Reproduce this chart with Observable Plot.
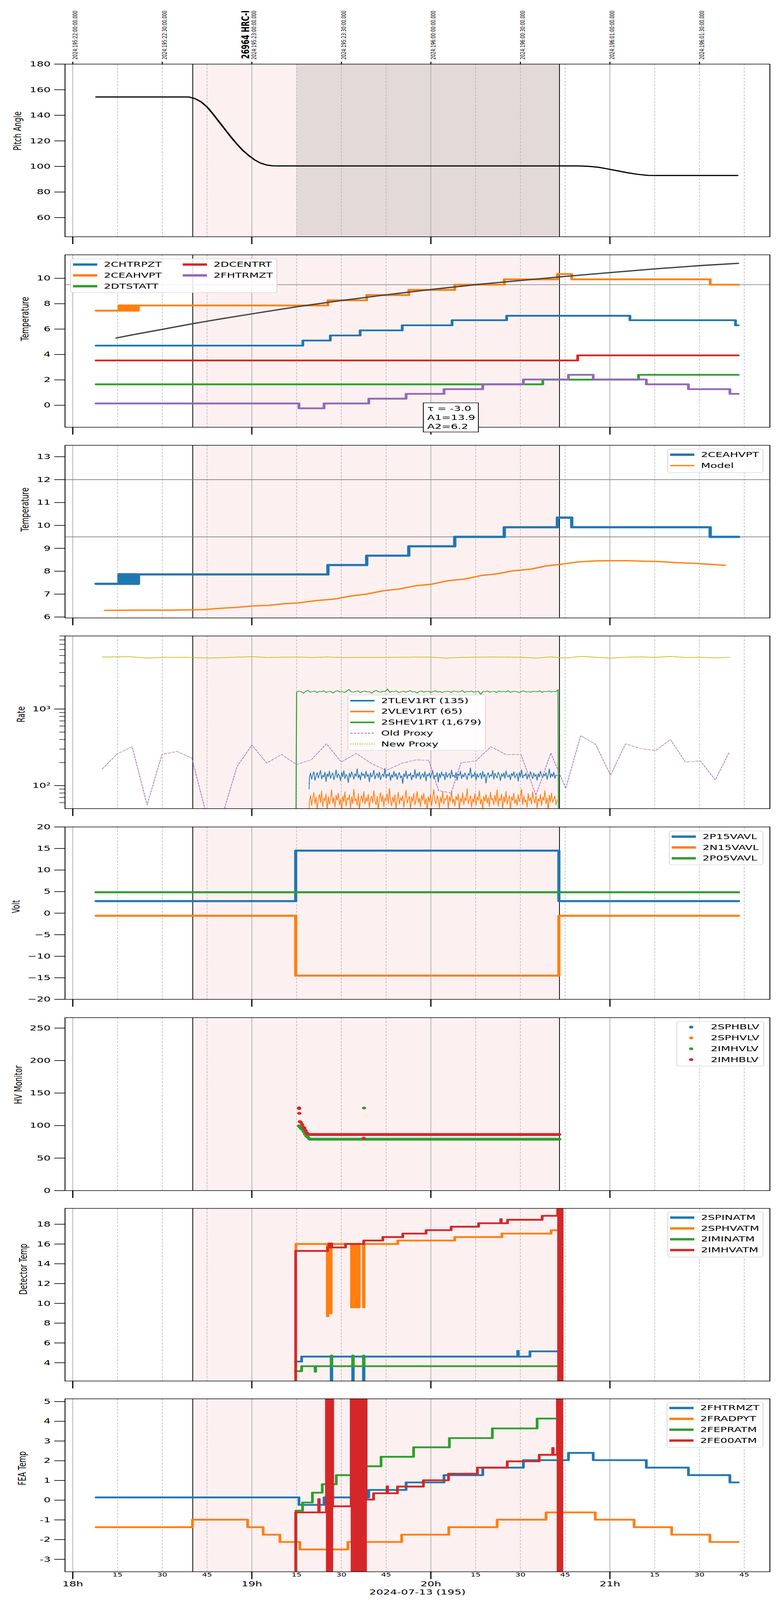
<!DOCTYPE html>
<html><head><meta charset="utf-8">
<script src="https://cdn.jsdelivr.net/npm/d3@7"></script>
<script src="https://cdn.jsdelivr.net/npm/@observablehq/plot@0.6"></script>
<style>
html,body{margin:0;background:#fff;overflow:hidden;height:4096px}
#page{position:absolute;left:0;top:0;width:2000px;height:6200px;font-family:"DejaVu Sans",sans-serif;overflow:hidden;background:#fff;transform-origin:0 0}
.legend{position:absolute;background:rgba(255,255,255,0.85);border:2px solid #d6d6d6;border-radius:7px;box-sizing:border-box}
.lg-h{position:absolute}
.lg-t{position:absolute;font-size:28px;line-height:42px;height:42px;white-space:nowrap;color:#000}
.tbox{position:absolute;background:#fff;border:2px solid #000;box-sizing:border-box;font-size:28px;line-height:35px;padding:3px 0 0 9px;white-space:nowrap}
</style></head>
<body><div id="page"></div>
<script>
// ---------- axis / time definitions (minutes after 18:00 local, 2024-07-13) ----------
const X_DOMAIN = [-2.6, 233.6];
const hourTicks = [0, 60, 120, 180];
const hourLabels = ["18h", "19h", "20h", "21h"];
const quarterTicks = [15, 30, 45, 75, 90, 105, 135, 150, 165, 195, 210, 225];
const quarterLabels = ["15", "30", "45", "15", "30", "45", "15", "30", "45", "15", "30", "45"];
const topTicks = [0, 30, 60, 90, 120, 150, 180, 210];
const topLabels = ["2024:195:22:00:00.000", "2024:195:22:30:00.000", "2024:195:23:00:00.000", "2024:195:23:30:00.000",
  "2024:196:00:00:00.000", "2024:196:00:30:00.000", "2024:196:01:00:00.000", "2024:196:01:30:00.000"];
const titleText = [{t: 56.6, label: "26964 HRC-I"}];
const xTitle = "2024-07-13 (195)";
const obsSpan = [[40.2, 163.1]];
const obsEdges = [40.2, 163.1];
const hvSpan = [[75.0, 163.1]];

// ---------- Panel 1: pitch ----------
const pitch = [[7.8,154.3],[39.0,154.3],[41,153],[43,150.5],[45,146.5],[47,141],[49,135],[51,129],[53,123],[55,117.5],
  [57,112.5],[59,108.5],[61,105],[63,102.5],[65,101.1],[67,100.5],[69,100.4],[169.3,100.4],[172.7,100.1],[176,99.4],
  [179.4,98.0],[182.7,96.5],[186.1,95.0],[189.4,93.8],[192.8,93.0],[196.1,92.9],[222.8,92.9]];
const pitchTicks = [60, 80, 100, 120, 140, 160, 180];

// ---------- Panel 2 / 3: temperatures ----------
const chtrpzt = [[7.8,4.7],[77.1,5.1],[86.3,5.5],[96.3,5.9],[110.4,6.3],[127.1,6.7],[145.4,7.05],[186.7,6.7],[222.1,6.3],[223.0,6.3]];
const ceahvpt = [[7.8,7.45],[15.5,7.87],[16.0,7.45],[16.4,7.87],[16.9,7.45],[17.4,7.87],[18.0,7.45],[18.5,7.87],[19.1,7.45],
  [19.6,7.87],[20.2,7.45],[20.8,7.87],[21.4,7.45],[22.0,7.86],[85.5,8.27],[98.5,8.68],[112.6,9.09],[128.0,9.5],[144.6,9.92],
  [162.4,10.34],[167.2,9.92],[213.6,9.5],[223.1,9.5]];
const dtstatt = [[7.8,1.65],[157.5,2.02],[189.6,2.4],[223.0,2.4]];
const dcentrt = [[7.8,3.53],[169.2,3.93],[223.0,3.93]];
const fhtrmzt = [[7.8,0.14],[75.8,-0.24],[84.2,0.14],[99.2,0.52],[111.7,0.9],[124.4,1.27],[137.4,1.65],[151.0,2.03],
  [166.1,2.4],[174.4,2.03],[192.2,1.65],[206.3,1.27],[220.2,0.9],[223.0,0.9]];
const hvptFit = [[14.6,5.3],[20,5.55],[30,5.98],[40,6.42],[50,6.82],[60,7.2],[75,7.76],[90,8.25],[105,8.7],[120,9.12],
  [135,9.5],[150,9.83],[165,10.15],[180,10.45],[195,10.74],[210,11.0],[223,11.18]];
const p2Limit = [9.5];
const p2Ticks = [0, 2, 4, 6, 8, 10];
const fitText = ["τ = -3.0", "A1=13.9", "A2=6.2"];
const hvptModel = [[10.7,6.29],[20.7,6.3],[32.4,6.3],[43.3,6.32],[49.1,6.38],[55,6.42],[60,6.48],[65.8,6.51],[70.8,6.58],
  [75.8,6.62],[81.7,6.72],[87.5,6.78],[93.4,6.92],[98.4,7.0],[104.2,7.15],[109.2,7.22],[115.1,7.37],[120.1,7.43],
  [125.9,7.59],[131,7.65],[136.8,7.81],[141.8,7.88],[147.7,8.02],[153.5,8.09],[158.5,8.23],[163.5,8.3],[169.4,8.41],
  [175.2,8.45],[180.2,8.46],[186.1,8.46],[191.1,8.44],[196.9,8.42],[202.8,8.37],[207.8,8.35],[213.6,8.3],[218.6,8.26]];
const p3Limits = [12, 9.5];
const p3Ticks = [6, 7, 8, 9, 10, 11, 12, 13];

// ---------- Panel 4: rates (log) ----------
const shevT = [75.0, 162.6];
const shevRate = [1650,1720,1690,1610,1700,1760,1660,1690,1720,1640,1700,1680,1730,1650,1690,1710,1620,1700,1740,1670,
  1690,1650,1710,1800,1680,1660,1700,1730,1640,1690,1720,1670,1690,1610,1700,1750,1680,1660,1710,1690,1830,1650,1700,1690,
  1720,1640,1680,1710,1660,1700,1740,1670,1690,1620,1700,1720,1660,1690,1710,1650,1690,1730,1670,1700,1640,1680,1710,1690,
  1650,1720,1700,1670,1690,1740,1650,1700,1680,1720,1660,1690,1710,1560,1700,1680,1730,1660,1690,1700,1650,1720,1680,1700,
  1670,1740,1650,1690,1710,1680,1640,1700,1720,1670,1690,1660,1710,1700,1680,1730,1650,1700,1690,1720,1670,1700,1680,1790];
const shevEdges = [[74.8, 40], [162.75, 40]];
const tlevT = [79.3, 162.3];
const tlevRate = [128,146,121,139,152,117,134,148,125,141,158,122,137,129,150,113,143,131,155,124,
  138,147,119,133,161,127,142,135,116,149,130,157,123,140,134,109,146,128,152,137,
  121,144,132,166,126,139,118,150,135,143,124,155,131,140,112,147,129,138,159,122,
  136,145,127,151,119,134,142,130,168,125,141,133,148,116,139,127,154,131,144,120,
  137,149,126,135,106,143,130,156,123,140,134,147,118,138,129,162,124,145,132,151,
  121,137,143,128,153,115,141,133,146,125,139,157,122,136,130,148,111,144,127,152,
  134,141,119,150,128,137,145,124,160,131,138,126,149,117,142,135,155,123,140,129,
  147,133,120,144,136,171,125,139,131,151,118,143,128,137,146,122,154,130,141,108,
  136,148,127,139,132,158,121,145,134,126,150,138,116,142,131,147,124,156,135,129,
  140,119,145,133,152,126,137,143,114,149,130,161,125,138,134,146,121,141,128,153,
  136,123,147,132,140,117,144,129,155,137,127,142,133,148,120,139,165,126,143,131,
  150,124,138,135];
const tlevStart = [79.2, 90];
const vlevT = [79.3, 162.3];
const vlevRate = [62,74,55,68,81,58,71,49,66,77,60,85,53,69,63,78,47,72,57,66,
  88,59,70,52,75,64,80,56,67,46,73,61,83,54,69,65,76,50,71,58,
  90,63,68,55,79,48,66,74,60,84,57,70,62,77,51,67,73,59,86,64,
  56,72,47,68,81,61,75,53,69,63,78,58,92,65,54,71,60,76,49,67,
  82,57,70,63,74,52,68,87,59,66,73,48,71,62,79,56,65,84,60,69,
  53,75,64,80,57,68,46,72,61,77,55,70,89,63,58,74,66,51,71,60,
  83,57,68,65,76,50,72,62,85,59,67,54,73,64,78,47,69,61,81,56,
  70,63,91,58,66,74,52,68,60,79,55,71,64,86,57,67,49,73,62,77,
  59,70,53,82,65,68,56,75,61,88,54,69,63,78,50,72,60,84,57,66,
  74,48,71,64,80,58,67,55,76,62,69,90,56,73,61,65,52,79,63,70,
  57,83,66,59,74,51,68,62,77,55,71,64,86,58,69,47,75,61,80,60,
  67,73,56,65];
const vlevStart = [79.2, 48];
const oldProxy = [[9.9,165],[14.9,260],[19.9,322],[24.9,56],[29.9,255],[34.9,279],[39.9,229],[44.9,40],[49.9,38],[55.0,176],
  [60.0,339],[65.0,197],[70.0,255],[75.0,188],[80.0,219],[85.0,351],[90.0,203],[95.0,264],[100.0,195],[105.1,158],[110.1,195],
  [115.1,217],[119.3,214],[122.6,86],[126.8,80],[130.1,199],[135.1,210],[140.1,322],[145.1,255],[150.2,254],[155.2,75],
  [160.2,265],[165.2,92],[170.2,451],[175.2,345],[180.2,137],[185.2,351],[190.2,305],[195.3,287],[200.3,398],[205.3,203],
  [210.3,210],[215.3,119],[220.0,274]];
const newProxy = [[9.9,4782],[19.0,4833],[24.9,4631],[30.7,4749],[39.9,4732],[44.9,4631],[49.9,4697],[60.0,4833],[65.0,4715],
  [75.0,4782],[80.0,4715],[85.0,4782],[90.0,4715],[105.1,4732],[115.1,4765],[120.1,4765],[125.1,4631],[130.1,4732],[140.1,4782],
  [150.2,4749],[155.2,4631],[160.2,4800],[165.2,4631],[170.2,4868],[175.2,4749],[180.2,4631],[185.2,4749],[190.2,4800],
  [195.3,4732],[200.3,4868],[205.3,4715],[210.3,4749],[215.3,4664],[220.0,4749]];
const rateTicks = [100, 1000];
const rateTickLabels = ["10²", "10³"];
const rateMinor = [60,70,80,90,200,300,400,500,600,700,800,900,2000,3000,4000,5000,6000,7000,8000,9000];

// ---------- Panel 5: volts ----------
const p15vavl = [[7.8,2.8],[74.7,14.5],[162.9,2.8],[223.1,2.8]];
const n15vavl = [[7.8,-0.6],[74.7,-14.5],[162.9,-0.6],[223.1,-0.6]];
const p05vavl = [[7.8,4.85],[223.1,4.85]];
const voltTicks = [-20, -15, -10, -5, 0, 5, 10, 15, 20];

// ---------- Panel 6: HV monitor ----------
const imhblv = [[75.8,127.2],[75.9,126.2],[75.9,118.8],[76.1,106],[76.4,105],[76.9,101.5],[77.3,97.5],[77.6,96],[78.0,92.5],
  [78.4,89],[78.9,87],[97.5,80.5]];
const imhblvFlat = [[79.3,86.3],[163.0,86.3]];
const imhvlv = [[75.8,99.5],[76.1,98],[76.5,95.5],[77.0,93.5],[77.4,90.5],[77.8,87],[78.3,84],[78.8,82],[79.2,80],[97.6,127]];
const imhvlvFlat = [[79.5,79.0],[163.0,79.0]];
const hvTicks = [0, 50, 100, 150, 200, 250];

// ---------- Panel 7: detector temps ----------
const spinatm = [[74.6,4.12],[76.7,4.62],[86.6,1.0],[86.8,4.62],[93.8,1.0],[94.0,4.62],[97.4,1.0],[97.6,4.62],[149.1,5.2],
  [149.3,4.62],[153.2,5.15],[162.6,5.15]];
const sphvatm = [[74.7,15.4],[74.8,16.0],[85.3,8.7],[85.5,16.0],[86.4,9.0],[86.6,16.0],[93.4,9.6],[93.7,16.0],[94.0,9.6],
  [94.3,16.0],[94.6,9.6],[94.9,16.0],[95.2,9.6],[95.5,16.0],[95.8,9.6],[96.0,16.0],[97.4,9.6],[97.6,16.0],[108.9,16.35],
  [128.0,16.7],[143.8,17.05],[160.3,17.4],[162.6,17.4]];
const imintatm = [[74.6,3.15],[76.7,3.65],[81.2,3.1],[81.4,3.65],[86.6,4.72],[86.8,3.65],[93.8,4.72],[94.0,3.65],[97.4,4.72],
  [97.6,3.65],[162.6,3.65]];
const imhvatm = [[74.6,-5],[74.7,15.3],[85.4,15.65],[85.8,16.05],[86.1,15.65],[86.5,16.05],[86.8,15.65],[91.4,16.0],[97.5,16.35],
  [103.9,16.7],[110.6,17.05],[118.4,17.4],[126.8,17.75],[136.0,18.1],[143.4,18.5],[143.6,18.1],[145.7,18.45],[157.3,18.85],
  [162.5,30],[162.8,-10],[163.1,30],[163.4,-10],[163.7,30],[164.0,-10],[164.2,-10]];
const detTicks = [4, 6, 8, 10, 12, 14, 16, 18];

// ---------- Panel 8: FEA temps ----------
const fradpyt = [[7.8,-1.37],[40.1,-0.99],[58.6,-1.37],[63.8,-1.75],[69.4,-2.12],[76.1,-2.5],[92.2,-2.12],[110.2,-1.75],
  [126.0,-1.37],[142.2,-0.99],[158.6,-0.62],[175.1,-0.99],[188.1,-1.37],[200.7,-1.75],[213.5,-2.12],[223.0,-2.12]];
const fepratm = [[74.7,-5],[74.8,-0.53],[77.0,-0.12],[80.3,0.38],[83.6,0.81],[86.5,-5],[86.7,0.81],[88.3,1.27],[93.7,-5],
  [93.9,1.27],[95.5,1.72],[97.4,-5],[97.6,1.72],[103.3,2.2],[114.2,2.68],[126.2,3.15],[140.6,3.64],[155.6,4.14],[162.6,-5],[162.7,-5]];
const fe00atm = [[74.6,-5],[74.7,-0.62],[82.4,0.05],[82.6,-0.62],[85.0,6],[85.3,-5],[85.6,6],[85.9,-5],[86.2,6],[86.5,-5],
  [86.8,6],[87.1,-0.31],[93.3,6],[93.6,-5],[93.9,6],[94.2,-5],[94.5,6],[94.8,-5],[95.1,6],[95.4,-5],[95.7,6],[96.0,-5],
  [96.3,6],[96.6,-5],[96.9,6],[97.2,-5],[97.5,6],[97.8,-5],[98.1,6],[98.3,0.03],[100.8,0.35],[105.3,0.7],[105.5,0.35],
  [108.8,0.69],[117.5,1.01],[125.9,1.34],[135.6,1.65],[145.6,1.97],[156.3,2.3],[160.8,2.65],[161.0,2.3],[162.4,6],[162.7,-5],
  [163.0,6],[163.3,-5],[163.6,6],[163.9,-5],[164.1,-5]];
const feaTicks = [-3, -2, -1, 0, 1, 2, 3, 4, 5];

// ---------- legends ----------
const p2Names = ["2CHTRPZT", "2CEAHVPT", "2DTSTATT", "2DCENTRT", "2FHTRMZT"];
const p3Names = ["2CEAHVPT", "Model"];
const p4Names = ["2TLEV1RT (135)", "2VLEV1RT (65)", "2SHEV1RT (1,679)", "Old Proxy", "New Proxy"];
const p5Names = ["2P15VAVL", "2N15VAVL", "2P05VAVL"];
const p6Names = ["2SPHBLV", "2SPHVLV", "2IMHVLV", "2IMHBLV"];
const p7Names = ["2SPINATM", "2SPHVATM", "2IMINATM", "2IMHVATM"];
const p8Names = ["2FHTRMZT", "2FRADPYT", "2FEPRATM", "2FE00ATM"];

// =====================================================================
const page = document.getElementById("page");
// the browser viewport can be shorter than the 6200px figure: fit the figure's height into it
const fitScale = Math.min(1, (window.innerHeight || 6200) / 6200);
page.style.transform = `scale(1, ${fitScale})`;
document.documentElement.style.height = document.body.style.height = Math.ceil(6200 * fitScale) + "px";

const FONT = '"DejaVu Sans", sans-serif';
const C = {blue: "#1f77b4", orange: "#ff7f0e", green: "#2ca02c", red: "#d62728", purple: "#9467bd", olive: "#bcbd22"};
const px = d => d[0], py = d => d[1];

function stepLine(data, stroke, w) {
  return Plot.line(data, {x: px, y: py, curve: "step-after", stroke, strokeWidth: w, strokeLinejoin: "round", clip: true});
}
function plainLine(data, stroke, w, extra = {}) {
  return Plot.line(data, {x: px, y: py, stroke, strokeWidth: w, strokeLinejoin: "round", clip: true, ...extra});
}
function sampled(range, values, head, tail) {
  const n = values.length, out = [];
  if (head) out.push(head);
  values.forEach((v, i) => out.push([range[0] + (range[1] - range[0]) * i / (n - 1), v]));
  if (tail) out.push(tail);
  return out;
}
function background(extra = []) {
  return [
    Plot.rect(obsSpan, {x1: px, x2: py, fill: "#fdf0f0"}),
    ...extra,
    Plot.ruleX(quarterTicks, {stroke: "#b2b2b2", strokeWidth: 1.5, strokeDasharray: "8,5"}),
    Plot.ruleX(hourTicks, {stroke: "#b2b2b2", strokeWidth: 2}),
    Plot.ruleX(obsEdges, {stroke: "#000", strokeWidth: 2})
  ];
}

function panel({top, bottom, mt = 30, mb = 40, y, yTicks, yFormat = d => String(d), yMinor, yLabel, yLabelX, marks, bgExtra = [], extra = [], bottomAxis = false}) {
  const height = bottom - top + mt + mb;
  const axes = [
    Plot.frame({stroke: "#000", strokeWidth: 2.2}),
    Plot.axisY({ticks: yTicks, tickSize: 27, tickPadding: 10, fontSize: 28, stroke: "#000", fill: "#000", strokeWidth: 2.5, tickFormat: yFormat, label: null}),
    Plot.text([yLabel], {text: d => d, frameAnchor: "left", dx: -(166 - yLabelX), rotate: -90, fontSize: 27})
  ];
  if (yMinor) axes.push(Plot.axisY({ticks: yMinor, tickSize: 14, stroke: "#000", fill: "none", strokeWidth: 2, label: null}));
  if (bottomAxis) {
    axes.push(
      Plot.axisX({ticks: hourTicks, tickSize: 29, tickPadding: 7, stroke: "#000", fill: "#000", strokeWidth: 3, fontSize: 28,
        tickFormat: d => hourLabels[hourTicks.indexOf(d)], label: null}),
      Plot.axisX({ticks: quarterTicks, tickSize: 0, tickPadding: 5, fill: "#000", fontSize: 20,
        tickFormat: d => quarterLabels[quarterTicks.indexOf(d)], label: null}),
      Plot.text([xTitle], {text: d => d, frameAnchor: "bottom", dy: 88, fontSize: 28})
    );
  } else {
    axes.push(Plot.axisX({ticks: hourTicks, tickSize: 29, stroke: "#000", fill: "none", strokeWidth: 3, label: null}));
  }
  const svg = Plot.plot({
    width: 2000, height, marginLeft: 166, marginRight: 29, marginTop: mt, marginBottom: mb,
    x: {domain: X_DOMAIN},
    y,
    style: {fontFamily: FONT, fontSize: "28px", background: "transparent", overflow: "visible", color: "#000"},
    marks: [...background(bgExtra), ...marks, ...axes, ...extra]
  });
  svg.style.position = "absolute";
  svg.style.left = "0px";
  svg.style.top = (top - mt) + "px";
  svg.style.maxWidth = "none";
  page.appendChild(svg);
}

function addLegend({left, top, width, height, names, handles, nrows, colOffset = 0}) {
  const box = document.createElement("div");
  box.className = "legend";
  box.style.cssText = `left:${left}px;top:${top}px;width:${width}px;height:${height}px;`;
  let html = "";
  names.forEach((name, i) => {
    const h = handles[i];
    const col = Math.floor(i / nrows), row = i % nrows;
    const cy = 21 + row * 42;
    const x0 = col * colOffset;
    let g;
    if (h.kind === "dot") g = `<circle cx="34" cy="12" r="5.5" fill="${h.color}"/>`;
    else g = `<line x1="3" x2="65" y1="12" y2="12" stroke="${h.color}" stroke-width="${h.w}"${h.dash ? ` stroke-dasharray="${h.dash}"` : ""}/>`;
    html += `<svg class="lg-h" style="left:${x0 + 2}px;top:${cy - 12}px" width="70" height="24">${g}</svg>`;
    html += `<div class="lg-t" style="left:${x0 + (h.kind === "dot" ? 86 : 84)}px;top:${cy - 21}px">${name}</div>`;
  });
  box.innerHTML = html;
  page.appendChild(box);
}

// ---------- Panel 1 ----------
panel({
  top: 248, bottom: 917, mt: 248,
  y: {domain: [45, 180]}, yTicks: pitchTicks, yLabel: "Pitch Angle", yLabelX: 45,
  bgExtra: [Plot.rect(hvSpan, {x1: px, x2: py, fill: "#e4d9d9"})],
  marks: [plainLine(pitch, "#000", 4.5)],
  extra: [
    Plot.axisX({anchor: "top", ticks: topTicks, tickSize: 10, stroke: "#000", fill: "none", strokeWidth: 2.5, label: null}),
    Plot.text(topTicks, {x: d => d, text: d => topLabels[topTicks.indexOf(d)], frameAnchor: "top", dy: -18,
      rotate: -90, textAnchor: "start", fontSize: 16}),
    Plot.text(titleText, {x: "t", text: "label", frameAnchor: "top", dy: -20, rotate: -90, textAnchor: "start",
      fontSize: 27, fontWeight: "bold"})
  ]
});

// ---------- Panel 2 ----------
panel({
  top: 987, bottom: 1655,
  y: {domain: [-1.73, 11.85]}, yTicks: p2Ticks, yLabel: "Temperature", yLabelX: 64,
  marks: [
    Plot.ruleY(p2Limit, {stroke: "#808080", strokeWidth: 2.5}),
    stepLine(chtrpzt, C.blue, 7),
    stepLine(ceahvpt, C.orange, 7),
    stepLine(dtstatt, C.green, 7),
    stepLine(dcentrt, C.red, 7),
    stepLine(fhtrmzt, C.purple, 7),
    plainLine(hvptFit, "#444444", 5)
  ]
});

// ---------- Panel 3 ----------
panel({
  top: 1725, bottom: 2394,
  y: {domain: [5.96, 13.5]}, yTicks: p3Ticks, yLabel: "Temperature", yLabelX: 64,
  marks: [
    Plot.ruleY(p3Limits, {stroke: "#808080", strokeWidth: 2.5}),
    stepLine(ceahvpt, C.blue, 8.5),
    plainLine(hvptModel, C.orange, 5)
  ]
});

// ---------- Panel 4 ----------
panel({
  top: 2464, bottom: 3133,
  y: {type: "log", domain: [50, 9000]}, yTicks: rateTicks, yMinor: rateMinor,
  yFormat: d => rateTickLabels[rateTicks.indexOf(d)], yLabel: "Rate", yLabelX: 54,
  marks: [
    plainLine(sampled(tlevT, tlevRate, tlevStart), C.blue, 2),
    plainLine(sampled(vlevT, vlevRate, vlevStart), C.orange, 2),
    plainLine(sampled(shevT, shevRate, shevEdges[0], shevEdges[1]), C.green, 2.6),
    plainLine(oldProxy, C.purple, 1.8, {strokeDasharray: "7,4"}),
    plainLine(newProxy, C.olive, 3, {strokeDasharray: "3,3"})
  ]
});

// ---------- Panel 5 ----------
panel({
  top: 3204, bottom: 3872,
  y: {domain: [-20, 20]}, yTicks: voltTicks, yFormat: d => d < 0 ? "\u2212" + (-d) : String(d),
  yLabel: "Volt", yLabelX: 41,
  marks: [
    stepLine(p15vavl, C.blue, 8),
    stepLine(n15vavl, C.orange, 8),
    stepLine(p05vavl, C.green, 8)
  ]
});

// ---------- Panel 6 ----------
panel({
  top: 3943, bottom: 4613,
  y: {domain: [0, 266]}, yTicks: hvTicks, yLabel: "HV Monitor", yLabelX: 47,
  marks: [
    plainLine(imhvlvFlat, C.green, 11, {strokeLinecap: "round"}),
    Plot.dot(imhvlv, {x: px, y: py, r: 5.5, fill: C.green, clip: true}),
    plainLine(imhblvFlat, C.red, 11, {strokeLinecap: "round"}),
    Plot.dot(imhblv, {x: px, y: py, r: 5.5, fill: C.red, clip: true})
  ]
});

// ---------- Panel 7 ----------
panel({
  top: 4682, bottom: 5351,
  y: {domain: [2.15, 19.6]}, yTicks: detTicks, yLabel: "Detector Temp", yLabelX: 60,
  marks: [
    stepLine(spinatm, C.blue, 7),
    stepLine(sphvatm, C.orange, 7),
    stepLine(imintatm, C.green, 7),
    stepLine(imhvatm, C.red, 7)
  ]
});

// ---------- Panel 8 ----------
panel({
  top: 5420, bottom: 6090, mb: 110,
  y: {domain: [-3.63, 5.14]}, yTicks: feaTicks, yLabel: "FEA Temp", yLabelX: 57,
  bottomAxis: true,
  marks: [
    stepLine(fhtrmzt, C.blue, 7),
    stepLine(fradpyt, C.orange, 7),
    stepLine(fepratm, C.green, 7),
    stepLine(fe00atm, C.red, 7)
  ]
});

// ---------- legends & annotation ----------
const L = (color, w = 9, dash) => ({color, w, dash});
addLegend({left: 180, top: 1002, width: 530, height: 133, nrows: 3, colOffset: 281, names: p2Names,
  handles: [L(C.blue), L(C.orange), L(C.green), L(C.red), L(C.purple)]});
addLegend({left: 1709, top: 1739, width: 246, height: 93, nrows: 2, names: p3Names,
  handles: [L(C.blue), L(C.orange, 5)]});
addLegend({left: 890, top: 2692, width: 354, height: 217, nrows: 5, names: p4Names,
  handles: [L(C.blue, 6), L(C.orange, 6), L(C.green, 6), L(C.purple, 2.5, "6,3"), L(C.olive, 3.5, "3,3")]});
addLegend({left: 1713, top: 3219, width: 242, height: 133, nrows: 3, names: p5Names,
  handles: [L(C.blue), L(C.orange), L(C.green)]});
addLegend({left: 1732, top: 3957, width: 225, height: 175, nrows: 4, names: p6Names,
  handles: [C.blue, C.orange, C.green, C.red].map(c => ({kind: "dot", color: c}))});
addLegend({left: 1709, top: 4695, width: 246, height: 177, nrows: 4, names: p7Names,
  handles: [L(C.blue), L(C.orange), L(C.green), L(C.red)]});
addLegend({left: 1707, top: 5433, width: 248, height: 177, nrows: 4, names: p8Names,
  handles: [L(C.blue), L(C.orange), L(C.green), L(C.red)]});

const tb = document.createElement("div");
tb.className = "tbox";
tb.style.cssText = "left:1083px;top:1560px;width:143px;height:115px;";
tb.innerHTML = fitText.join("<br>");
page.appendChild(tb);
</script>
</body></html>
